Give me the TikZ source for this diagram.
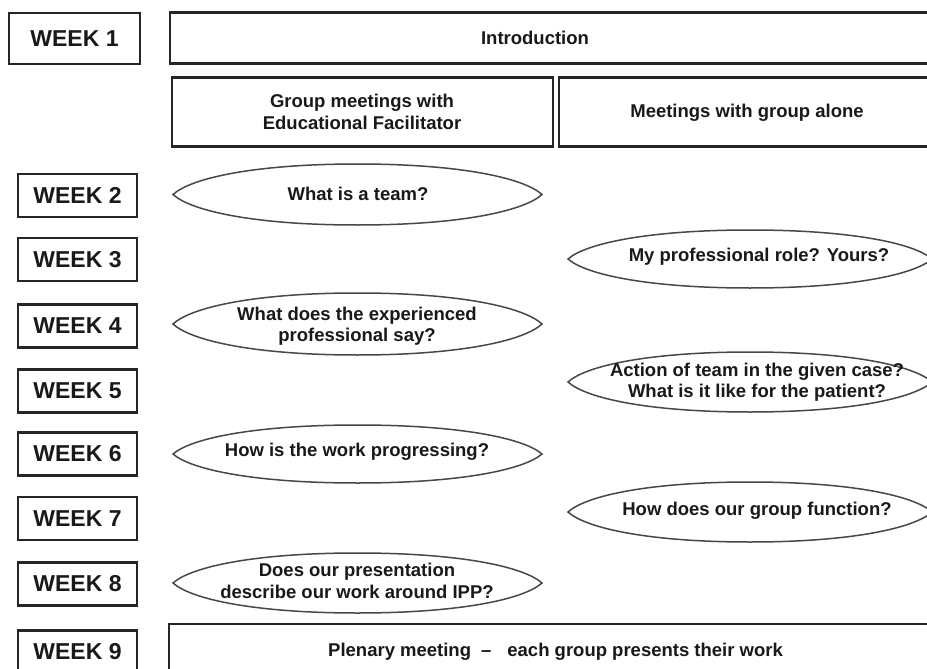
\documentclass[tikz,border=0pt]{standalone}
\usepackage{fontspec}
\setmainfont{Liberation Sans}
\newcommand\lensat[4]{%
 \draw[lens] (#1-#3,#2) .. controls (#1-0.9*#3,#2-0.55*#4) and (#1-0.55*#3,#2-#4) .. (#1,#2-#4)
   .. controls (#1+0.55*#3,#2-#4) and (#1+0.9*#3,#2-0.55*#4) .. (#1+#3,#2)
   .. controls (#1+0.9*#3,#2+0.55*#4) and (#1+0.55*#3,#2+#4) .. (#1,#2+#4)
   .. controls (#1-0.55*#3,#2+#4) and (#1-0.9*#3,#2+0.55*#4) .. (#1-#3,#2) -- cycle;}
\begin{document}
\begin{tikzpicture}[x=1pt,y=-1pt,
  wk/.style={draw=black!85,line width=2.2pt,minimum width=119pt,minimum height=43pt,inner sep=0pt,
    font=\fontsize{23}{27}\selectfont\bfseries,text=black!90},
  bx/.style={draw=black!85,line width=2.2pt,inner sep=0pt},
  txt/.style={font=\fontsize{18.5}{21.5}\selectfont\bfseries,align=center,inner sep=0pt,text=black!90},
  lens/.style={draw=black!72,line width=1.5pt}]
\clip (0,0) rectangle (927,669);
\fill[white] (0,0) rectangle (927,669);

% week boxes
\node[wk,minimum width=131pt,minimum height=51pt] (w1) at (74.5,38.5) {WEEK 1};
\node[wk] (w2) at (77.5,195.5) {WEEK 2};
\node[wk] (w3) at (77.5,259.5) {WEEK 3};
\node[wk] (w4) at (77.5,326) {WEEK 4};
\node[wk] (w5) at (77.5,391) {WEEK 5};
\node[wk] (w6) at (77.5,454) {WEEK 6};
\node[wk] (w7) at (77.5,518.5) {WEEK 7};
\node[wk] (w8) at (77.5,584) {WEEK 8};
\node[wk] (w9) at (77.5,652) {WEEK 9};

% wide boxes
\node[bx,minimum width=780pt,minimum height=51pt] (intro) at (560,38) {};
\node[txt] (introt) at (535,38) {Introduction};
\node[bx,minimum width=381pt,minimum height=69pt] (grp) at (362.5,112) {};
\node[txt] (grpt) at (362,112) {Group meetings with\\Educational Facilitator};
\node[bx,minimum width=390pt,minimum height=69pt] (alone) at (754,112) {};
\node[txt] (alonet) at (747,113) {Meetings with group alone};
\node[bx,minimum width=780pt,minimum height=100pt] (plen) at (559,674) {};
\node[txt,anchor=west] (plent) at (328,652) {Plenary meeting\hspace{10pt}--\hspace{16pt}each group presents their work};

% lenses, left column
\lensat{357.5}{194.5}{184.5}{30.5}
\node[txt] (e2) at (358,194) {What is a team?};
\lensat{357.5}{324}{184.5}{31}
\node[txt] (e4) at (357,326) {What does the experienced\\professional say?};
\lensat{357.5}{454}{184.5}{29}
\node[txt] (e6) at (357,452) {How is the work progressing?};
\lensat{357.5}{583}{184.5}{30}
\node[txt] (e8) at (357,581) {Does our presentation\\describe our work around IPP?};

% lenses, right column
\lensat{750}{259}{182}{29}
\node[txt] (e3) at (759,257) {My professional role? Yours?};
\lensat{750}{382}{182}{30}
\node[txt] (e5) at (757,382) {Action of team in the given case?\\What is it like for the patient?};
\lensat{750}{512}{182}{30}
\node[txt] (e7) at (757,511) {How does our group function?};
\end{tikzpicture}
\end{document}
